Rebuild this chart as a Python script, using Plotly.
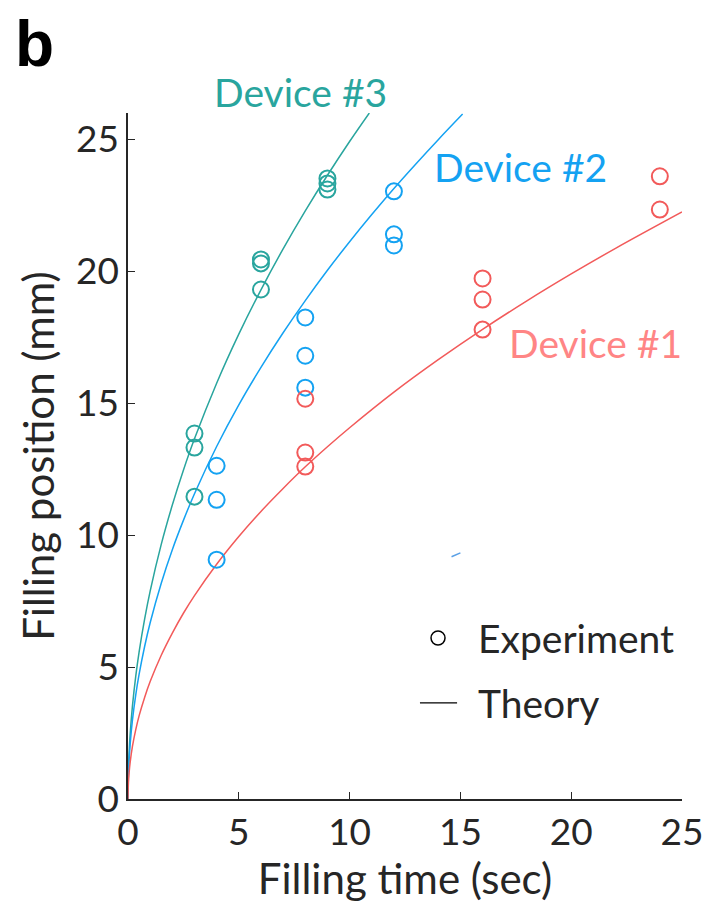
import plotly.graph_objects as go

# Experimental data
t3 = [3, 3, 3, 6, 6, 6, 9, 9, 9]
p3 = [13.85, 13.32, 11.46, 20.45, 20.3, 19.31, 23.52, 23.33, 23.1]
t2 = [4, 4, 4, 8, 8, 8, 12, 12, 12]
p2 = [12.63, 11.34, 9.07, 18.25, 16.8, 15.59, 23.03, 21.4, 20.98]
t1 = [8, 8, 8, 16, 16, 16, 24, 24]
p1 = [15.17, 13.13, 12.6, 19.73, 18.93, 17.79, 23.6, 22.34]

# Theory curves
tt3 = [0, 0.02, 0.05, 0.1, 0.2, 0.35, 0.5, 0.75, 1, 1.5, 2, 2.5, 3, 4, 5, 6, 7, 8, 9, 10, 10.89]
pt3 = [0, 1.11, 1.76, 2.49, 3.52, 4.66, 5.57, 6.82, 7.88, 9.65, 11.14, 12.46, 13.65, 15.76, 17.62, 19.3, 20.85, 22.29, 23.64, 24.92, 26.0]
tt2 = [0, 0.02, 0.05, 0.1, 0.2, 0.35, 0.5, 0.75, 1, 1.5, 2, 2.5, 3, 4, 5, 6, 7, 8, 9, 10, 11, 12, 13, 14, 15.1]
pt2 = [0, 0.95, 1.49, 2.11, 2.99, 3.95, 4.72, 5.78, 6.68, 8.18, 9.45, 10.56, 11.57, 13.36, 14.94, 16.36, 17.67, 18.89, 20.04, 21.12, 22.15, 23.14, 24.08, 24.99, 25.96]
tt1 = [0, 0.02, 0.05, 0.1, 0.2, 0.35, 0.5, 0.75, 1, 1.5, 2, 2.5, 3, 4, 5, 6, 7, 8, 9, 10, 12, 14, 16, 18, 20, 22, 25]
pt1 = [0, 0.63, 1.0, 1.41, 1.99, 2.63, 3.15, 3.85, 4.45, 5.45, 6.29, 7.04, 7.71, 8.9, 9.95, 10.9, 11.77, 12.59, 13.35, 14.07, 15.42, 16.65, 17.8, 18.88, 19.9, 20.87, 22.25]

# small stray segment seen in the picture
ts = [14.6, 15.0]
ps = [9.18, 9.33]

tick_vals = [0, 5, 10, 15, 20, 25]

TEAL = "#29a59e"
BLUE = "#14a2f2"
RED = "#f25a5a"
FONT = "Lato"
TXT = "#262626"

fig = go.Figure()
fig.add_trace(go.Scatter(x=tt3, y=pt3, mode="lines", line=dict(color=TEAL, width=1.5, shape="spline"), showlegend=False))
fig.add_trace(go.Scatter(x=tt2, y=pt2, mode="lines", line=dict(color=BLUE, width=1.5, shape="spline"), showlegend=False))
fig.add_trace(go.Scatter(x=tt1, y=pt1, mode="lines", line=dict(color=RED, width=1.5, shape="spline"), showlegend=False))
fig.add_trace(go.Scatter(x=ts, y=ps, mode="lines", line=dict(color="#5aa0e6", width=1.5), showlegend=False))
mk = dict(symbol="circle-open", size=16, line=dict(width=2))
fig.add_trace(go.Scatter(x=t3, y=p3, mode="markers", marker=dict(color=TEAL, **mk), showlegend=False))
fig.add_trace(go.Scatter(x=t2, y=p2, mode="markers", marker=dict(color=BLUE, **mk), showlegend=False))
fig.add_trace(go.Scatter(x=t1, y=p1, mode="markers", marker=dict(color=RED, **mk), showlegend=False))

# Device labels
fig.add_annotation(x=0.3105, y=1.0306, text="Device #3", showarrow=False, xref="paper", yref="paper",
                   xanchor="center", yanchor="middle", font=dict(color=TEAL, size=39, family=FONT))
fig.add_annotation(x=0.7076, y=0.9213, text="Device #2", showarrow=False, xref="paper", yref="paper",
                   xanchor="center", yanchor="middle", font=dict(color=BLUE, size=39, family=FONT))
fig.add_annotation(x=0.843, y=0.6647, text="Device #1", showarrow=False, xref="paper", yref="paper",
                   xanchor="center", yanchor="middle", font=dict(color="#ff8585", size=39, family=FONT))
# panel letter
fig.add_annotation(x=-0.169, y=1.10, text="<b>b</b>", showarrow=False, xref="paper", yref="paper",
                   xanchor="center", yanchor="middle", font=dict(color="black", size=64, family="Liberation Sans"))

# manual legend
fig.add_shape(type="circle", xref="paper", yref="paper", xsizemode="pixel", ysizemode="pixel",
              xanchor=0.5596, yanchor=0.2347, x0=-7, x1=7, y0=-7, y1=7,
              line=dict(color="black", width=1.5))
fig.add_annotation(x=0.6282, y=0.2347, text="Experiment", showarrow=False, xref="paper", yref="paper",
                   xanchor="left", yanchor="middle", font=dict(color=TXT, size=39, family=FONT))
fig.add_shape(type="line", xref="paper", yref="paper", x0=0.527, x1=0.594, y0=0.140, y1=0.140,
              line=dict(color="black", width=1.2))
fig.add_annotation(x=0.6282, y=0.140, text="Theory", showarrow=False, xref="paper", yref="paper",
                   xanchor="left", yanchor="middle", font=dict(color=TXT, size=39, family=FONT))

axis_common = dict(showline=True, linecolor="#262626", linewidth=1.5, ticks="inside", ticklen=7,
                   tickcolor="#262626", tickwidth=1.2, showgrid=False, zeroline=False, automargin=False,
                   tickfont=dict(size=37, family=FONT, color=TXT), mirror=False)
fig.update_xaxes(range=[0, 25], tickvals=tick_vals,
                 title=dict(text="Filling time (sec)", font=dict(size=42, family=FONT, color=TXT), standoff=12), **axis_common)
fig.update_yaxes(range=[0, 26], tickvals=tick_vals,
                 title=dict(text="Filling position (mm)", font=dict(size=42, family=FONT, color=TXT), standoff=8), **axis_common)

fig.update_layout(
    width=710, height=919, autosize=False,
    margin=dict(l=128, r=28, t=113, b=120),
    plot_bgcolor="white", paper_bgcolor="white",
    showlegend=False,
)
fig.write_html("out.html")
